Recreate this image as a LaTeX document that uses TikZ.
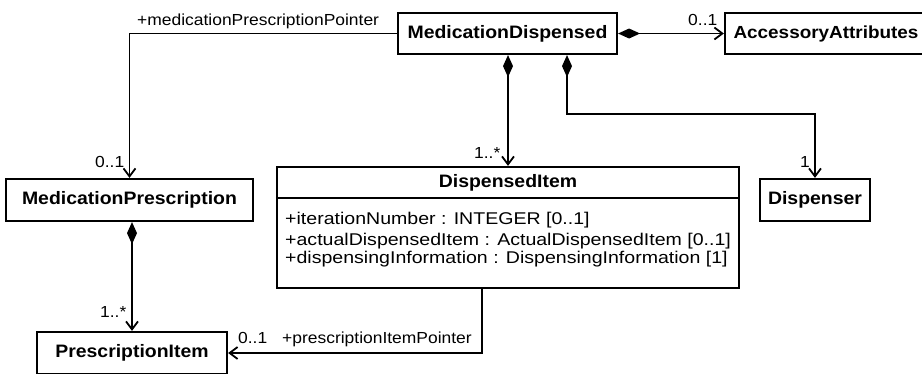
\documentclass[tikz,border=0pt]{standalone}
\usepackage{fontspec}
\setmainfont{Liberation Sans}
\newfontfamily\lblfont[FakeStretch=1.09]{Liberation Sans}
\newfontfamily\attrfont[FakeStretch=1.15]{Liberation Sans}
\newfontfamily\clsfont[FakeStretch=1.08]{Liberation Sans}
\usetikzlibrary{arrows.meta}
\begin{document}
\begin{tikzpicture}[x=1pt,y=-1pt,
 cls/.style={draw, line width=2.2pt, inner sep=0pt, font=\clsfont\bfseries\fontsize{18}{21}\selectfont},
 clstitle/.style={inner sep=0pt, font=\clsfont\bfseries\fontsize{18}{21}\selectfont},
 lbl/.style={inner sep=0pt, anchor=base west, font=\lblfont\fontsize{16}{19}\selectfont},
 attr/.style={inner sep=0pt, anchor=base west, font=\attrfont\fontsize{17}{20}\selectfont},
 assoc/.style={line width=1.8pt, -{Straight Barb[length=8pt,width=12pt,line width=1.8pt]}},
 comp/.style={line width=1.8pt, {Diamond[length=22pt,width=10pt]}-{Straight Barb[length=8pt,width=12pt,line width=1.8pt]}}]
\fill[white] (0,0) rectangle (922,373);
\useasboundingbox (0,0) rectangle (922,373);
% classes
\node[cls, minimum width=219pt, minimum height=41pt] (md) at (507.5,33.5) {MedicationDispensed};
\node[cls, minimum width=202pt, minimum height=41pt, font=\clsfont\bfseries\fontsize{17.5}{20}\selectfont] (aa) at (826,33.5) {AccessoryAttributes};
\node[cls, minimum width=247pt, minimum height=42pt] (mp) at (129.5,200) {MedicationPrescription};
\node[cls, minimum width=110pt, minimum height=42pt] (dsp) at (815,200) {Dispenser};
\node[cls, minimum width=190pt, minimum height=42pt] (pi) at (132,353) {PrescriptionItem};
\node[draw, line width=2.2pt, minimum width=462pt, minimum height=121pt, inner sep=0pt] (di) at (508,227.5) {};
\node[clstitle] (dit) at (508,182.5) {DispensedItem};
\coordinate (sepy) at (0,198);
\draw[line width=2.2pt] (di.west |- sepy) -- (di.east |- sepy);
\node[attr] (a1) at (285,224) {+iterationNumber : INTEGER [0..1]};
\node[attr] (a2) at (285,245) {+actualDispensedItem : ActualDispensedItem [0..1]};
\node[attr] (a3) at (285,263) {+dispensingInformation : DispensingInformation [1]};
% connectors
\draw[assoc] (md.west) -| (mp.north);
\draw[comp] (md.east) -- (aa.west);
\draw[comp] (md.south -| di.north) -- (di.north);
\coordinate (k) at (567,114);
\draw[comp] (md.south -| k) -- (k) -| (dsp.north);
\draw[comp] (mp.south -| pi.north) -- (pi.north);
\coordinate (k2) at (482,353);
\draw[assoc] (di.south -| k2) -- (k2) -- (pi.east);
% labels
\node[lbl] (l1) at (137,25) {+medicationPrescriptionPointer};
\node[lbl] (l2) at (688,25) {0..1};
\node[lbl] (l3) at (474,158) {1..*};
\node[lbl] (l4) at (800,167) {1};
\node[lbl] (l5) at (95,167) {0..1};
\node[lbl] (l6) at (100,317) {1..*};
\node[lbl] (l7) at (238,343) {0..1};
\node[lbl] (l8) at (282,343) {+prescriptionItemPointer};
\end{tikzpicture}
\end{document}
